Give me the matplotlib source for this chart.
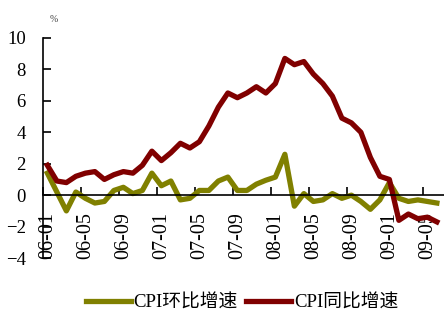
import matplotlib
matplotlib.use("Agg")
import matplotlib.pyplot as plt
import numpy as np

plt.rcParams['font.family'] = ['Liberation Serif', 'Noto Sans CJK SC', 'DejaVu Sans']

# monthly CPI growth, 2006-01 .. 2009-06 (%)
months = [f"{y:02d}-{m:02d}" for y in range(6, 10) for m in range(1, 13)][:42]
cpi_mom = [1.4, 0.2, -1.0, 0.2, -0.2, -0.5, -0.4, 0.3, 0.5, 0.1, 0.3, 1.4,
           0.6, 0.9, -0.3, -0.2, 0.3, 0.3, 0.9, 1.15, 0.3, 0.3, 0.7, 0.95,
           1.15, 2.6, -0.7, 0.1, -0.4, -0.3, 0.1, -0.2, 0.0, -0.4, -0.9, -0.3,
           0.8, -0.2, -0.4, -0.3, -0.4, -0.5]
cpi_yoy = [1.9, 0.9, 0.8, 1.2, 1.4, 1.5, 1.0, 1.3, 1.5, 1.4, 1.9, 2.8,
           2.2, 2.7, 3.3, 3.0, 3.4, 4.4, 5.6, 6.5, 6.2, 6.5, 6.9, 6.5,
           7.1, 8.7, 8.3, 8.5, 7.7, 7.1, 6.3, 4.9, 4.6, 4.0, 2.4, 1.2,
           1.0, -1.6, -1.2, -1.5, -1.4, -1.7]

green = '#808000'
red = '#800000'

fig = plt.figure(figsize=(4.44, 3.36), dpi=100)
ax = fig.add_axes([0.096, 0.232, 0.904, 0.655])

x = np.arange(len(months))
ax.plot(x, cpi_mom, color=green, lw=3.8, label='CPI环比增速')
ax.plot(x, cpi_yoy, color=red, lw=3.8, label='CPI同比增速')

ax.set_xlim(-0.5, 41.75)
ax.set_ylim(-4, 10)
ax.set_yticks(range(-4, 11, 2))

for s in ['top', 'right']:
    ax.spines[s].set_visible(False)
ax.spines['bottom'].set_position(('data', 0))
ax.spines['left'].set_linewidth(1.2)
ax.spines['bottom'].set_linewidth(1.2)

# tick marks between categories, labels centred on every 4th month
ax.set_xticks(np.arange(-0.5, 42, 4))
ax.set_xticklabels([])
ax.set_xticks(x[::4], minor=True)
ax.set_xticklabels(months[::4], minor=True, rotation=90, fontsize=14.5)
ax.tick_params(axis='x', which='major', direction='in', length=6, width=1.2)
ax.tick_params(axis='x', which='minor', length=0, pad=12)
ax.tick_params(axis='y', direction='in', length=6, width=1.2, labelsize=13.5, pad=12)

fig.text(0.12, 0.935, '%', fontsize=7, color='#444444', ha='center')

fig.legend(loc='center', bbox_to_anchor=(0.545, 0.098), ncol=2, frameon=False,
           fontsize=13.5, handlelength=2.4, handletextpad=0.15, columnspacing=0.45)

fig.savefig('out.png', dpi=100)
